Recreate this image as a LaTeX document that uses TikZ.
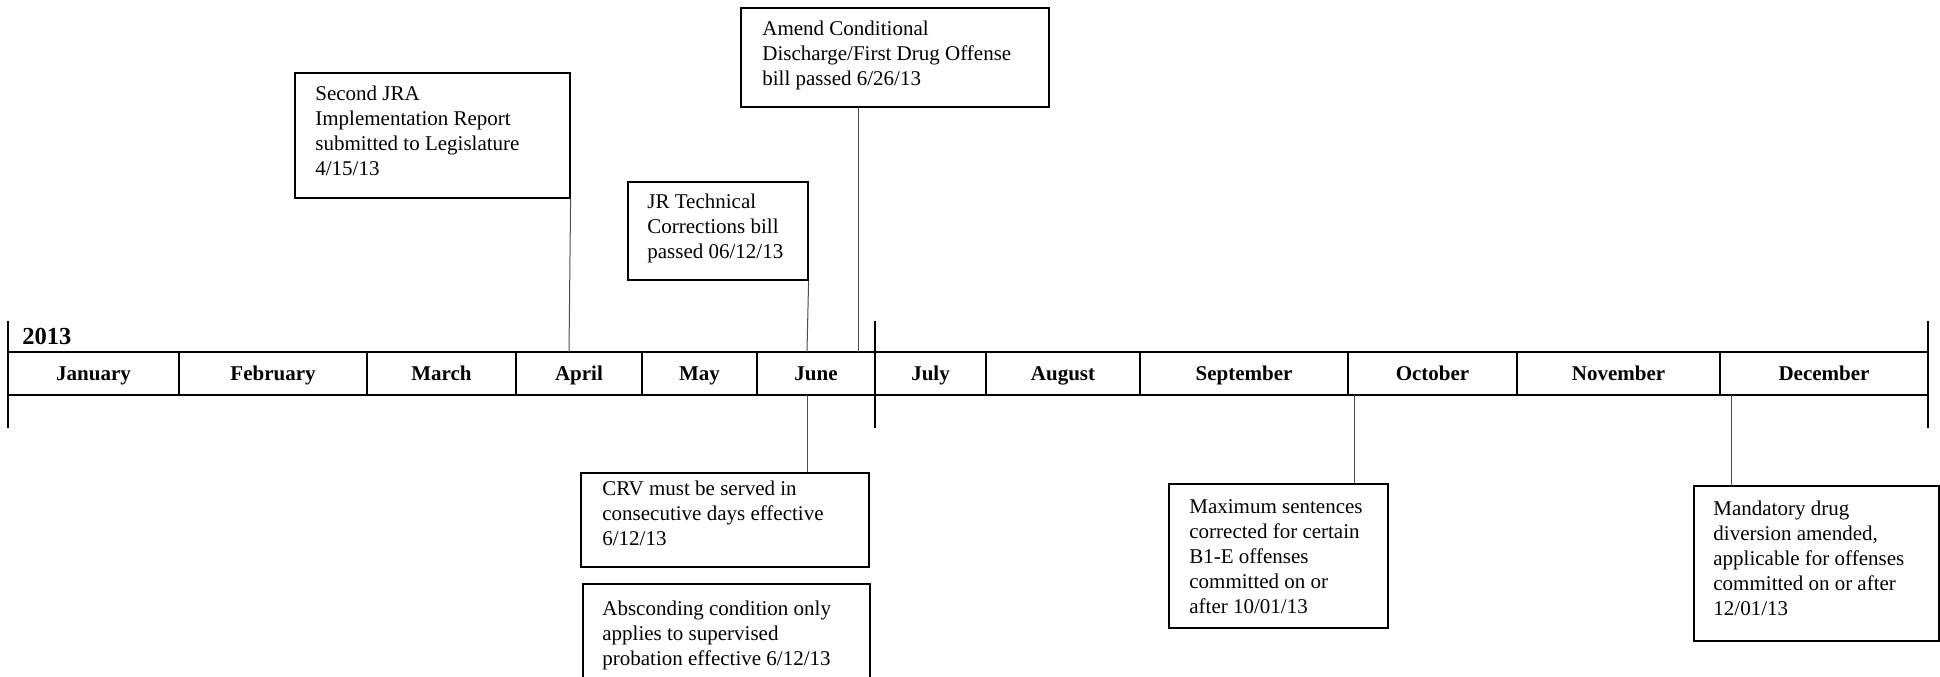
\documentclass[tikz,border=0pt]{standalone}
\usepackage{fontspec}
\setmainfont{Liberation Serif}
\begin{document}
\begin{tikzpicture}[x=0.5pt,y=-0.5pt,
  evbox/.style={draw=black, line width=0.8pt, inner sep=0pt, anchor=north west},
  evtext/.style={font=\fontsize{10.5}{12.5}\selectfont, align=left, inner sep=0pt, anchor=base west},
  month/.style={font=\fontsize{10.5}{12.5}\selectfont\bfseries, inner sep=0pt, anchor=base},
  conn/.style={draw=black!70, line width=0.5pt},
  band/.style={line width=1.3pt},
  divider/.style={line width=1pt}]
\useasboundingbox (0,0) rectangle (1940,676);

% time band
\draw[band] (8,352) -- (1928,352);
\draw[band] (8,395) -- (1928,395);
\foreach \xx in {179,367,516,642,757,986,1140,1348,1517,1720}
  \draw[divider] (\xx,352) -- (\xx,395);
\foreach \xx in {8,875,1928}
  \draw[divider] (\xx,321) -- (\xx,428);

\node[font=\fontsize{12.25}{14}\selectfont\bfseries, anchor=base west, inner sep=0pt] (yr) at (22,344) {2013};

\node[month] (m1) at (93.5,380.5) {January};
\node[month] (m2) at (273,380.5) {February};
\node[month] (m3) at (441.5,380.5) {March};
\node[month] (m4) at (579,380.5) {April};
\node[month] (m5) at (699.5,380.5) {May};
\node[month] (m6) at (816,380.5) {June};
\node[month] (m7) at (930.5,380.5) {July};
\node[month] (m8) at (1063,380.5) {August};
\node[month] (m9) at (1244,380.5) {September};
\node[month] (m10) at (1432.5,380.5) {October};
\node[month] (m11) at (1618.5,380.5) {November};
\node[month] (m12) at (1824,380.5) {December};

% event boxes (text nodes anchored at the baseline of their last line)
\node[evbox, minimum width=137.5pt, minimum height=62.5pt] (b1) at (294,72) {};
\node[evtext] (t1) at (315,175) {Second JRA\\Implementation Report\\submitted to Legislature\\4/15/13};

\node[evbox, minimum width=154pt, minimum height=49.5pt] (b2) at (740,7) {};
\node[evtext] (t2) at (762,85) {Amend Conditional\\Discharge/First Drug Offense\\bill passed 6/26/13};

\node[evbox, minimum width=90pt, minimum height=49pt] (b3) at (627,181) {};
\node[evtext] (t3) at (647,258) {JR Technical\\Corrections bill\\passed 06/12/13};

\node[evbox, minimum width=144pt, minimum height=47pt] (b4) at (580,472) {};
\node[evtext] (t4) at (602,545) {CRV must be served in\\consecutive days effective\\6/12/13};

\node[evbox, minimum width=143.5pt, minimum height=48.5pt] (b5) at (582,583) {};
\node[evtext] (t5) at (602,665) {Absconding condition only\\applies to supervised\\probation effective 6/12/13};

\node[evbox, minimum width=109.5pt, minimum height=72pt] (b6) at (1168,483) {};
\node[evtext] (t6) at (1189,613) {Maximum sentences\\corrected for certain\\B1-E offenses\\committed on or\\after 10/01/13};

\node[evbox, minimum width=122.5pt, minimum height=77.5pt] (b7) at (1693,485) {};
\node[evtext] (t7) at (1713,615) {Mandatory drug\\diversion amended,\\applicable for offenses\\committed on or after\\12/01/13};

% connectors
\coordinate (aprT) at (569,352);
\coordinate (junT) at (807,352);
\coordinate (jun2T) at (858,352);
\coordinate (junB) at (807,395);
\coordinate (octB) at (1354,395);
\coordinate (decB) at (1731,395);

\draw[conn] (b1.south east) -- (aprT);
\draw[conn] (b3.south east) -- (junT);
\draw[conn] (b2.south -| jun2T) -- (jun2T);
\draw[conn] (junB) -- (b4.north -| junB);
\draw[conn] (octB) -- (b6.north -| octB);
\draw[conn] (decB) -- (b7.north -| decB);
\end{tikzpicture}
\end{document}
